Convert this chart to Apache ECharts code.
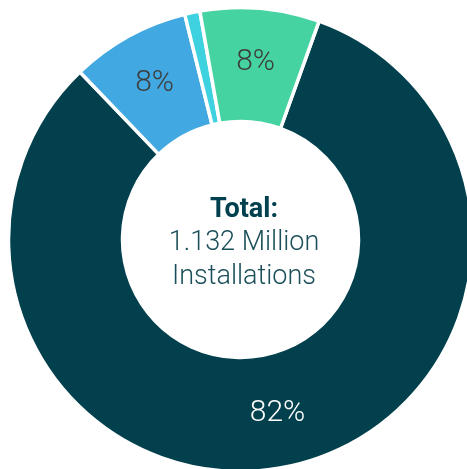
<!DOCTYPE html>
<html>
<head>
<meta charset="utf-8">
<script src="https://cdn.jsdelivr.net/npm/echarts@6/dist/echarts.min.js"></script>
<style>
  html, body { margin: 0; padding: 0; background: #ffffff; }
  #chart { width: 467px; height: 469px; }
</style>
</head>
<body>
<div id="chart"></div>
<script>
// Installations by segment, in thousands (total 1.132 million)
const categories = ['Segment A', 'Segment B', 'Segment C', 'Segment D'];
const installations = [932, 94, 12, 94];
const sliceColors = ['#02404d', '#42a8e1', '#3ed2e1', '#45d3a2'];
const labelColors = ['#ffffff', '#3d3d3d', '#3d3d3d', '#3d3d3d'];
const showLabel = [true, true, false, true];
const centerLines = ['Total:', '1.132 Million', 'Installations'];

const FONT = 'Roboto, "Noto Sans", sans-serif';

const chart = echarts.init(document.getElementById('chart'), null, { renderer: 'canvas' });

const data = categories.map((name, i) => ({
  name,
  value: installations[i],
  itemStyle: { color: sliceColors[i] },
  label: { show: showLabel[i], color: labelColors[i] }
}));

// centre caption: one line per entry, 33.7px apart (y is the top of each line)
const centerStyles = [
  { fill: '#01404e', font: 'bold 27px ' + FONT },
  { fill: '#1b4f5a', font: '300 27px ' + FONT },
  { fill: '#1b4f5a', font: '300 27px ' + FONT }
];
const centerText = centerLines.map((t, i) => ({
  type: 'text',
  x: 244,
  y: 196.5 + i * 33.7,
  silent: true,
  style: Object.assign({
    text: t,
    align: 'center',
    verticalAlign: 'top'
  }, centerStyles[i])
}));

chart.setOption({
  animation: false,
  backgroundColor: '#ffffff',
  series: [{
    type: 'pie',
    center: [240.5, 239.5],
    radius: [118, 232],
    startAngle: 70.2,
    clockwise: true,
    avoidLabelOverlap: false,
    itemStyle: { borderColor: '#ffffff', borderWidth: 3.5 },
    label: {
      position: 'inside',
      formatter: p => Math.round(p.percent) + '%',
      fontFamily: FONT,
      fontSize: 30,
      fontWeight: 300
    },
    labelLine: { show: false },
    emphasis: { disabled: true },
    data
  }],
  graphic: centerText
});
</script>
</body>
</html>
